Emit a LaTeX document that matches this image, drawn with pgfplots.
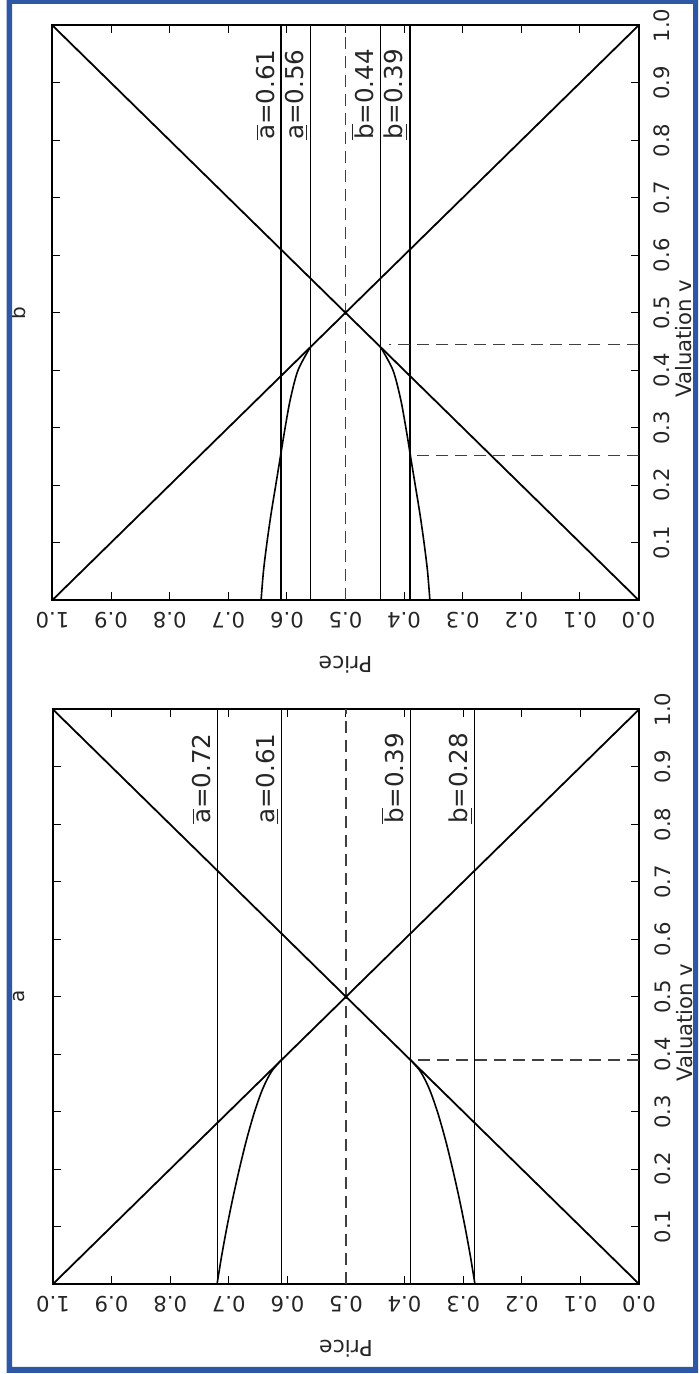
\documentclass[border=0pt]{standalone}
\usepackage{fontspec}
\setmainfont{DejaVu Sans}
\usepackage{pgfplots}
\usepackage{pgfplotstable}
\pgfplotsset{compat=1.18}
\definecolor{frameblue}{RGB}{46,88,166}

\pgfplotstableread{
p v
0.280 0.00
0.288 0.05
0.297 0.10
0.307 0.15
0.318 0.20
0.330 0.25
0.344 0.30
0.358 0.34
0.373 0.37
0.390 0.39
}\lowA
\pgfplotstableread{
p v
0.720 0.00
0.712 0.05
0.703 0.10
0.693 0.15
0.682 0.20
0.670 0.25
0.656 0.30
0.642 0.34
0.627 0.37
0.610 0.39
}\upA
\pgfplotstableread{
p v
0.356 0.00
0.360 0.05
0.366 0.10
0.373 0.15
0.381 0.20
0.389 0.25
0.397 0.30
0.406 0.35
0.419 0.40
0.440 0.44
}\lowB
\pgfplotstableread{
p v
0.644 0.00
0.640 0.05
0.634 0.10
0.627 0.15
0.619 0.20
0.611 0.25
0.603 0.30
0.594 0.35
0.581 0.40
0.560 0.44
}\upB

\newcommand{\tlfont}{\fontsize{10.6}{12}\selectfont}
\newcommand{\lblfont}{\fontsize{12.3}{14}\selectfont}

\tikzset{
  thinline/.style={line width=0.55pt, black},
  dashline/.style={line width=0.65pt, black!75, dash pattern=on 6pt off 3.5pt},
  diag/.style={line width=0.9pt, black},
  curve/.style={line width=0.8pt, black, smooth},
  lbl/.style={rotate=90, anchor=base west, inner sep=0pt, font=\lblfont, text=black!85},
}

\pgfplotsset{
  panel/.style={
    scale only axis, width=293pt, height=287.25pt,
    xmin=0, xmax=1, ymin=0, ymax=1,
    x dir=reverse,
    xtick={0,0.1,0.2,0.3,0.4,0.5,0.6,0.7,0.8,0.9,1.0},
    ytick={0.1,0.2,0.3,0.4,0.5,0.6,0.7,0.8,0.9,1.0},
    tick align=inside, major tick length=4pt,
    every tick/.style={line width=0.5pt, black},
    axis line style={line width=1pt, black},
    yticklabel pos=right,
    xticklabel style={rotate=180, anchor=south, inner sep=0pt, font=\tlfont, text=black!85},
    xticklabel shift=5.75pt,
    yticklabel style={rotate=90, anchor=north, inner sep=0pt, font=\tlfont, text=black!85},
    yticklabel shift=7.5pt,
    /pgf/number format/.cd, fixed, fixed zerofill, precision=1, assume math mode=true,
    /pgfplots/.cd,
    every axis x label/.style={at={(axis description cs:0.5,-0.113)}, rotate=180, anchor=center, font=\fontsize{11}{13}\selectfont, text=black!85},
    every axis y label/.style={at={(axis description cs:1.063,0.455)}, rotate=90, anchor=north, inner sep=0pt, font=\tlfont, text=black!85},
    every axis title/.style={at={(axis description cs:-0.058,0.5)}, rotate=90, anchor=center, font=\fontsize{10}{12}\selectfont, text=black!85},
    xlabel={Price}, ylabel={Valuation v},
  }
}

\begin{document}
\begin{tikzpicture}
\path[use as bounding box] (0,0) rectangle (349pt,687pt);
% ---------- panel a ----------
\begin{axis}[panel, at={(26.5pt,45pt)}, anchor=south west, title={a}]
\addplot[thinline] coordinates {(0.72,0) (0.72,1)};
\addplot[thinline] coordinates {(0.61,0) (0.61,1)};
\addplot[thinline] coordinates {(0.39,0) (0.39,1)};
\addplot[thinline] coordinates {(0.28,0) (0.28,1)};
\addplot[dashline] coordinates {(0.5,0) (0.5,1)};
\addplot[dashline] coordinates {(0,0.39) (0.388,0.39)};
\addplot[diag] coordinates {(0,0) (1,1)};
\addplot[diag] coordinates {(1,0) (0,1)};
\addplot[curve] table[x=p, y=v] {\lowA};
\addplot[curve] table[x=p, y=v] {\upA};
\node[lbl] at (axis cs:0.732,0.80) {$\overline{\mbox{a}}$=0.72};
\node[lbl] at (axis cs:0.622,0.80) {\underline{a}=0.61};
\node[lbl] at (axis cs:0.402,0.80) {$\overline{\mbox{b}}$=0.39};
\node[lbl] at (axis cs:0.292,0.80) {\underline{b}=0.28};
\end{axis}
% ---------- panel b ----------
\begin{axis}[panel, at={(26.25pt,387pt)}, anchor=south west, title={b}]
\addplot[thinline] coordinates {(0.61,0) (0.61,1)};
\addplot[thinline] coordinates {(0.56,0) (0.56,1)};
\addplot[thinline] coordinates {(0.44,0) (0.44,1)};
\addplot[thinline] coordinates {(0.39,0) (0.39,1)};
\addplot[dashline] coordinates {(0.5,0) (0.5,1)};
\addplot[dashline] coordinates {(0,0.445) (0.425,0.445)};
\addplot[dashline] coordinates {(0,0.252) (0.39,0.252)};
\addplot[diag] coordinates {(0,0) (1,1)};
\addplot[diag] coordinates {(1,0) (0,1)};
\addplot[curve] table[x=p, y=v] {\lowB};
\addplot[curve] table[x=p, y=v] {\upB};
\node[lbl] at (axis cs:0.622,0.80) {$\overline{\mbox{a}}$=0.61};
\node[lbl] at (axis cs:0.572,0.80) {\underline{a}=0.56};
\node[lbl] at (axis cs:0.452,0.80) {$\overline{\mbox{b}}$=0.44};
\node[lbl] at (axis cs:0.402,0.80) {\underline{b}=0.39};
\end{axis}
% blue frame of the scan
\fill[frameblue, even odd rule] (3.25pt,0.5pt) rectangle (349pt,687pt) (6pt,3.5pt) rectangle (346.5pt,685pt);
\end{tikzpicture}
\end{document}
